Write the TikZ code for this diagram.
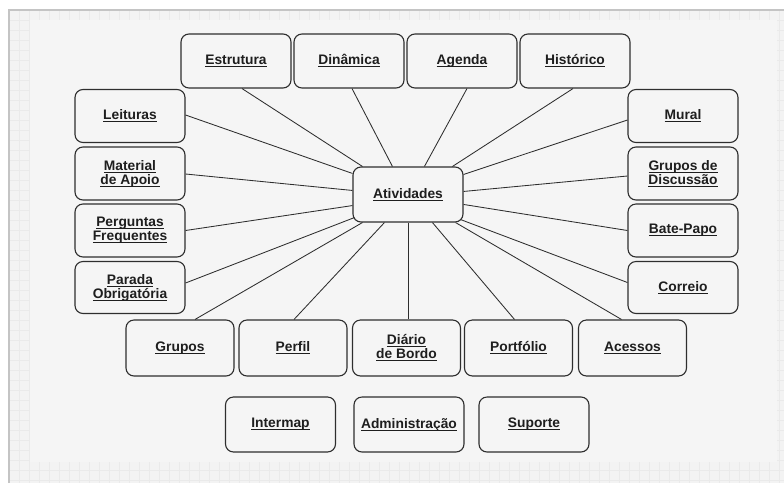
\documentclass[tikz,border=0pt]{standalone}
\usepackage{fontspec}
\setmainfont{Liberation Sans}
\usetikzlibrary{calc}
\definecolor{pagebg}{HTML}{F5F5F5}
\definecolor{gridbg}{HTML}{F3F3F3}
\definecolor{gridln}{HTML}{EAEAEA}
\definecolor{framec}{HTML}{C4C4C4}
\definecolor{boxline}{HTML}{2E2E2E}
\definecolor{textc}{HTML}{1E1E1E}
\newcommand\linkt[1]{\setbox0\hbox{#1}\rlap{\lower1.6pt\hbox{\vrule width\wd0 height0pt depth1pt}}\box0}
\begin{document}
\begin{tikzpicture}[x=1pt,y=-1pt,
  box/.style={draw=boxline, line width=1.1pt, rounded corners=8pt, fill=pagebg,
    minimum width=110pt, minimum height=54pt, align=center, inner sep=1pt,
    font=\fontsize{13.8}{14}\selectfont\bfseries, text=textc},
  link/.style={draw=boxline, line width=0.85pt}]
\useasboundingbox (0,0) rectangle (784,483);
% page background
\fill[white] (0,0) rectangle (784,483);
\fill[gridbg] (9,10) rectangle (784,483);
\foreach \x in {9,19,...,784} \draw[gridln, line width=0.5pt] (\x,10) -- (\x,483);
\foreach \y in {10,20,...,483} \draw[gridln, line width=0.5pt] (9,\y) -- (784,\y);
\fill[pagebg] (30,20) rectangle (777,462);
\draw[framec, line width=2pt] (9,483) -- (9,10) -- (784,10);

% center
\node[box, minimum height=55pt] (A) at (408,194.5) {\linkt{Atividades}};
% top row
\node[box] (E)  at (236,61) {\linkt{Estrutura}};
\node[box] (D)  at (349,61) {\linkt{Dinâmica}};
\node[box] (Ag) at (462,61) {\linkt{Agenda}};
\node[box] (H)  at (575,61) {\linkt{Histórico}};
% left column
\node[box, minimum height=53pt] (L)  at (130,116)   {\linkt{Leituras}};
\node[box, minimum height=53pt] (Ma) at (130,173.5) {\linkt{Material}\\\linkt{de Apoio}};
\node[box, minimum height=53pt] (Pq) at (130,230.5) {\linkt{Perguntas}\\\linkt{Frequentes}};
\node[box, minimum height=52pt] (Pa) at (130,287.5) {\linkt{Parada}\\\linkt{Obrigatória}};
% right column
\node[box, minimum height=53pt] (M)  at (683,116)   {\linkt{Mural}};
\node[box, minimum height=53pt] (GD) at (683,173.5) {\linkt{Grupos de}\\\linkt{Discussão}};
\node[box, minimum height=53pt] (BP) at (683,230.5) {\linkt{Bate-Papo}};
\node[box, minimum height=52pt] (C)  at (683,287.5) {\linkt{Correio}};
% bottom row
\node[box, minimum width=108pt, minimum height=56pt] (G)  at (180,348)   {\linkt{Grupos}};
\node[box, minimum width=108pt, minimum height=56pt] (Pf) at (293,348)   {\linkt{Perfil}};
\node[box, minimum width=108pt, minimum height=56pt] (Di) at (406.5,348) {\linkt{Diário}\\\linkt{de Bordo}};
\node[box, minimum width=108pt, minimum height=56pt] (Po) at (518.5,348) {\linkt{Portfólio}};
\node[box, minimum width=108pt, minimum height=56pt] (Ac) at (632.5,348) {\linkt{Acessos}};
% last row
\node[box, minimum height=55pt] (I)  at (280.5,424.5) {\linkt{Intermap}};
\node[box, minimum height=55pt] (Ad) at (409,424.5)   {\linkt{Administração}};
\node[box, minimum height=55pt] (S)  at (534,424.5)   {\linkt{Suporte}};

% connectors
\draw[link] ($(A.north west)+(10,0)$) -- ($(E.south)+(6,0)$);
\draw[link] ($(A.north west)+(40,0)$) -- ($(D.south)+(3,0)$);
\draw[link] ($(A.north west)+(72,0)$) -- ($(Ag.south)+(5,0)$);
\draw[link] ($(A.north west)+(100,0)$) -- ($(H.south)+(-2,0)$);
\draw[link] ($(A.north east)+(0,8)$) -- ($(M.west)+(0,4)$);
\draw[link] ($(A.north east)+(0,25)$) -- ($(GD.west)+(0,2.5)$);
\draw[link] ($(A.north east)+(0,38)$) -- (BP.west);
\draw[link] ($(A.south east)+(-3,-3)$) -- ($(C.west)+(0,-5)$);
\draw[link] ($(A.south east)+(-8,0)$) -- ($(Ac.north)+(-11,0)$);
\draw[link] ($(A.south west)+(80,0)$) -- ($(Po.north)+(-4,0)$);
\draw[link] (A.south) -- (A.south |- Di.north);
\draw[link] ($(A.south west)+(32,0)$) -- ($(Pf.north)+(1,0)$);
\draw[link] ($(A.south west)+(10,0)$) -- ($(G.north)+(15,0)$);
\draw[link] ($(A.south west)+(2,-5)$) -- ($(Pa.east)+(0,-4.5)$);
\draw[link] ($(A.south west)+(0,-17)$) -- (Pq.east);
\draw[link] ($(A.north west)+(0,24)$) -- ($(Ma.east)+(0,0.5)$);
\draw[link] ($(A.north west)+(0,7)$) -- ($(L.east)+(0,-1)$);
\end{tikzpicture}
\end{document}
